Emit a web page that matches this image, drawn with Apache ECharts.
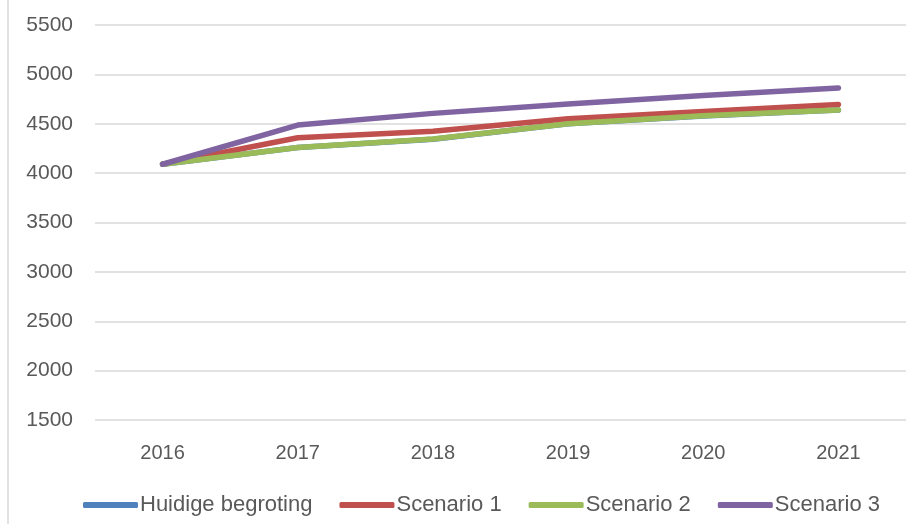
<!DOCTYPE html>
<html>
<head>
<meta charset="utf-8">
<script src="https://cdn.jsdelivr.net/npm/echarts@6/dist/echarts.min.js"></script>
<style>html,body{margin:0;padding:0;background:#fff;}#c{width:906px;height:524px;}</style>
</head>
<body>
<div id="c"></div>
<script>
const years = ['2016','2017','2018','2019','2020','2021'];
const huidige = [4090, 4259, 4344, 4499, 4579, 4639];
const scenario1 = [4090, 4358, 4425, 4550, 4625, 4695];
const scenario2 = [4090, 4260, 4345, 4500, 4580, 4640];
const scenario3 = [4090, 4487, 4605, 4700, 4785, 4862];
const seriesNames = ['Huidige begroting', 'Scenario 1', 'Scenario 2', 'Scenario 3'];
const seriesData = [huidige, scenario1, scenario2, scenario3];
const colors = ['#4F81BD', '#C0504D', '#9BBB59', '#8064A2'];

const FONT = '"Liberation Sans", Arial, sans-serif';
const chart = echarts.init(document.getElementById('c'), null, {renderer: 'canvas'});
chart.setOption({
  animation: false,
  backgroundColor: '#ffffff',
  color: colors,
  grid: {left: 95, top: 25, width: 816, height: 395, containLabel: false},
  xAxis: {
    type: 'category',
    data: years,
    boundaryGap: true,
    axisLine: {show: false},
    axisTick: {show: false},
    axisLabel: {color: '#595959', fontSize: 20, fontFamily: FONT, margin: 23}
  },
  yAxis: {
    type: 'value',
    min: 1500, max: 5500, interval: 500,
    axisLine: {show: false},
    axisTick: {show: false},
    axisLabel: {color: '#595959', fontSize: 21, fontFamily: FONT, margin: 22,
      formatter: v => String(v)},
    splitLine: {lineStyle: {color: '#d9d9d9', width: 1.5}}
  },
  legend: {
    data: seriesNames,
    left: 83, top: 494,
    padding: 0,
    itemWidth: 55, itemHeight: 6, itemGap: 27,
    icon: 'roundRect',
    textStyle: {color: '#595959', fontSize: 22, fontFamily: FONT, padding: [0,0,0,-3]}
  },
  graphic: [{
    type: 'line', shape: {x1: 8, y1: 0, x2: 8, y2: 524},
    style: {stroke: '#d9d9d9', lineWidth: 1.5}
  }],
  series: seriesNames.map((n, i) => ({
    name: n, type: 'line', data: seriesData[i],
    showSymbol: false, symbol: 'none',
    lineStyle: {width: 5.5, color: colors[i], cap: 'round', join: 'round'},
    itemStyle: {color: colors[i]}
  }))
});
</script>
</body>
</html>
